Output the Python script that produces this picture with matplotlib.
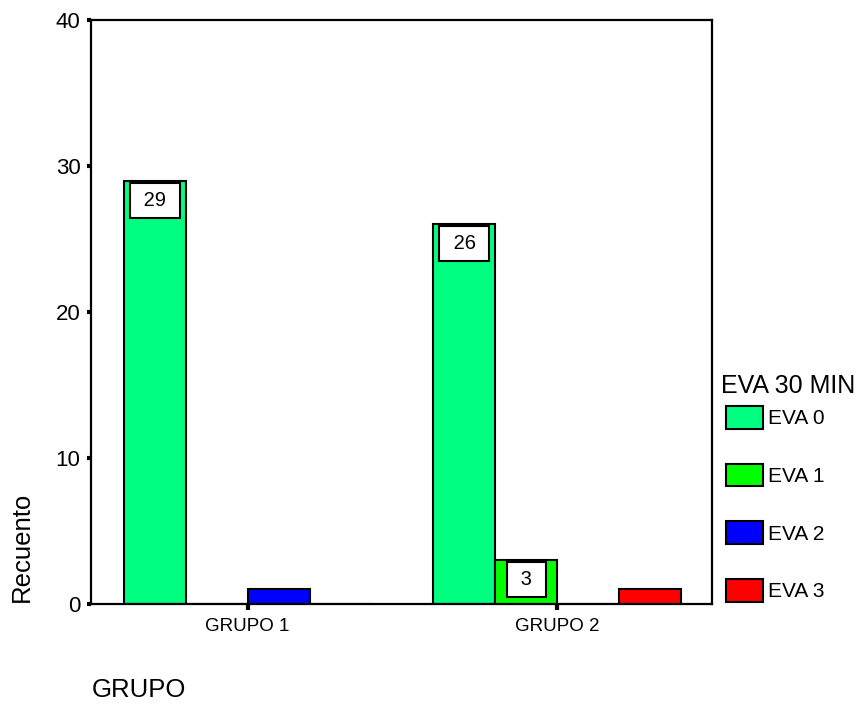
import matplotlib
matplotlib.use("Agg")
import matplotlib.pyplot as plt
import numpy as np

plt.rcParams['font.family'] = ['Liberation Sans', 'DejaVu Sans']

groups = ["GRUPO 1", "GRUPO 2"]
series = ["EVA 0", "EVA 1", "EVA 2", "EVA 3"]
eva0 = [29, 26]
eva1 = [0, 3]
eva2 = [1, 0]
eva3 = [0, 1]
values = [eva0, eva1, eva2, eva3]
colors = ["#00FF80", "#00FF00", "#0000FF", "#FF0000"]
yticks = [0, 10, 20, 30, 40]

W, H = 866, 707
fig = plt.figure(figsize=(W / 100, H / 100), dpi=100)
ax = fig.add_axes([91 / W, 1 - 604 / H, (712 - 91) / W, (604 - 20) / H])

x = np.arange(len(groups))
w = 0.2
handles = []
for i, (name, vals, c) in enumerate(zip(series, values, colors)):
    pos = x + (i - 1.5) * w
    b = ax.bar(pos, vals, width=w, color=c, edgecolor="black", linewidth=1.5,
               label=name, zorder=2)
    handles.append(b)
    for p, v in zip(pos, vals):
        if v >= 2:
            ax.annotate(f" {v} ", xy=(p, v), xytext=(0, -10), textcoords="offset pixels",
                        ha="center", va="top", fontsize=14.5, zorder=3,
                        bbox=dict(boxstyle="square,pad=0.4", fc="white",
                                  ec="black", lw=1.5))

ax.set_xlim(-0.506, 1.5)
ax.set_ylim(0, 40)
ax.set_yticks(yticks)
ax.set_yticklabels([str(t) for t in yticks], fontsize=16)
ax.set_xticks(x)
ax.set_xticklabels(groups, fontsize=13.5)
ax.tick_params(axis="y", direction="out", length=3, width=3, pad=4.5)
ax.tick_params(axis="x", direction="out", length=4.3, width=3, pad=6)
for s in ax.spines.values():
    s.set_linewidth(1.6)

fig.text(22 / W, 1 - 547 / H, "Recuento", rotation=90, fontsize=18.5,
         ha="center", va="center")
fig.text(92 / W, 1 - 690 / H, "GRUPO", fontsize=18.5, ha="left", va="center")
fig.text(721 / W, 1 - 386 / H, "EVA 30 MIN", fontsize=18, ha="left", va="center")

leg = ax.legend(handles=handles, labels=series,
                loc="upper left", bbox_to_anchor=(726 / W, 1 - 406 / H),
                bbox_transform=fig.transFigure, frameon=False,
                fontsize=15, handlelength=1.78,
                handleheight=1.3, labelspacing=1.68, handletextpad=0.24,
                borderpad=0, borderaxespad=0)

fig.savefig("out.png", dpi=100)
